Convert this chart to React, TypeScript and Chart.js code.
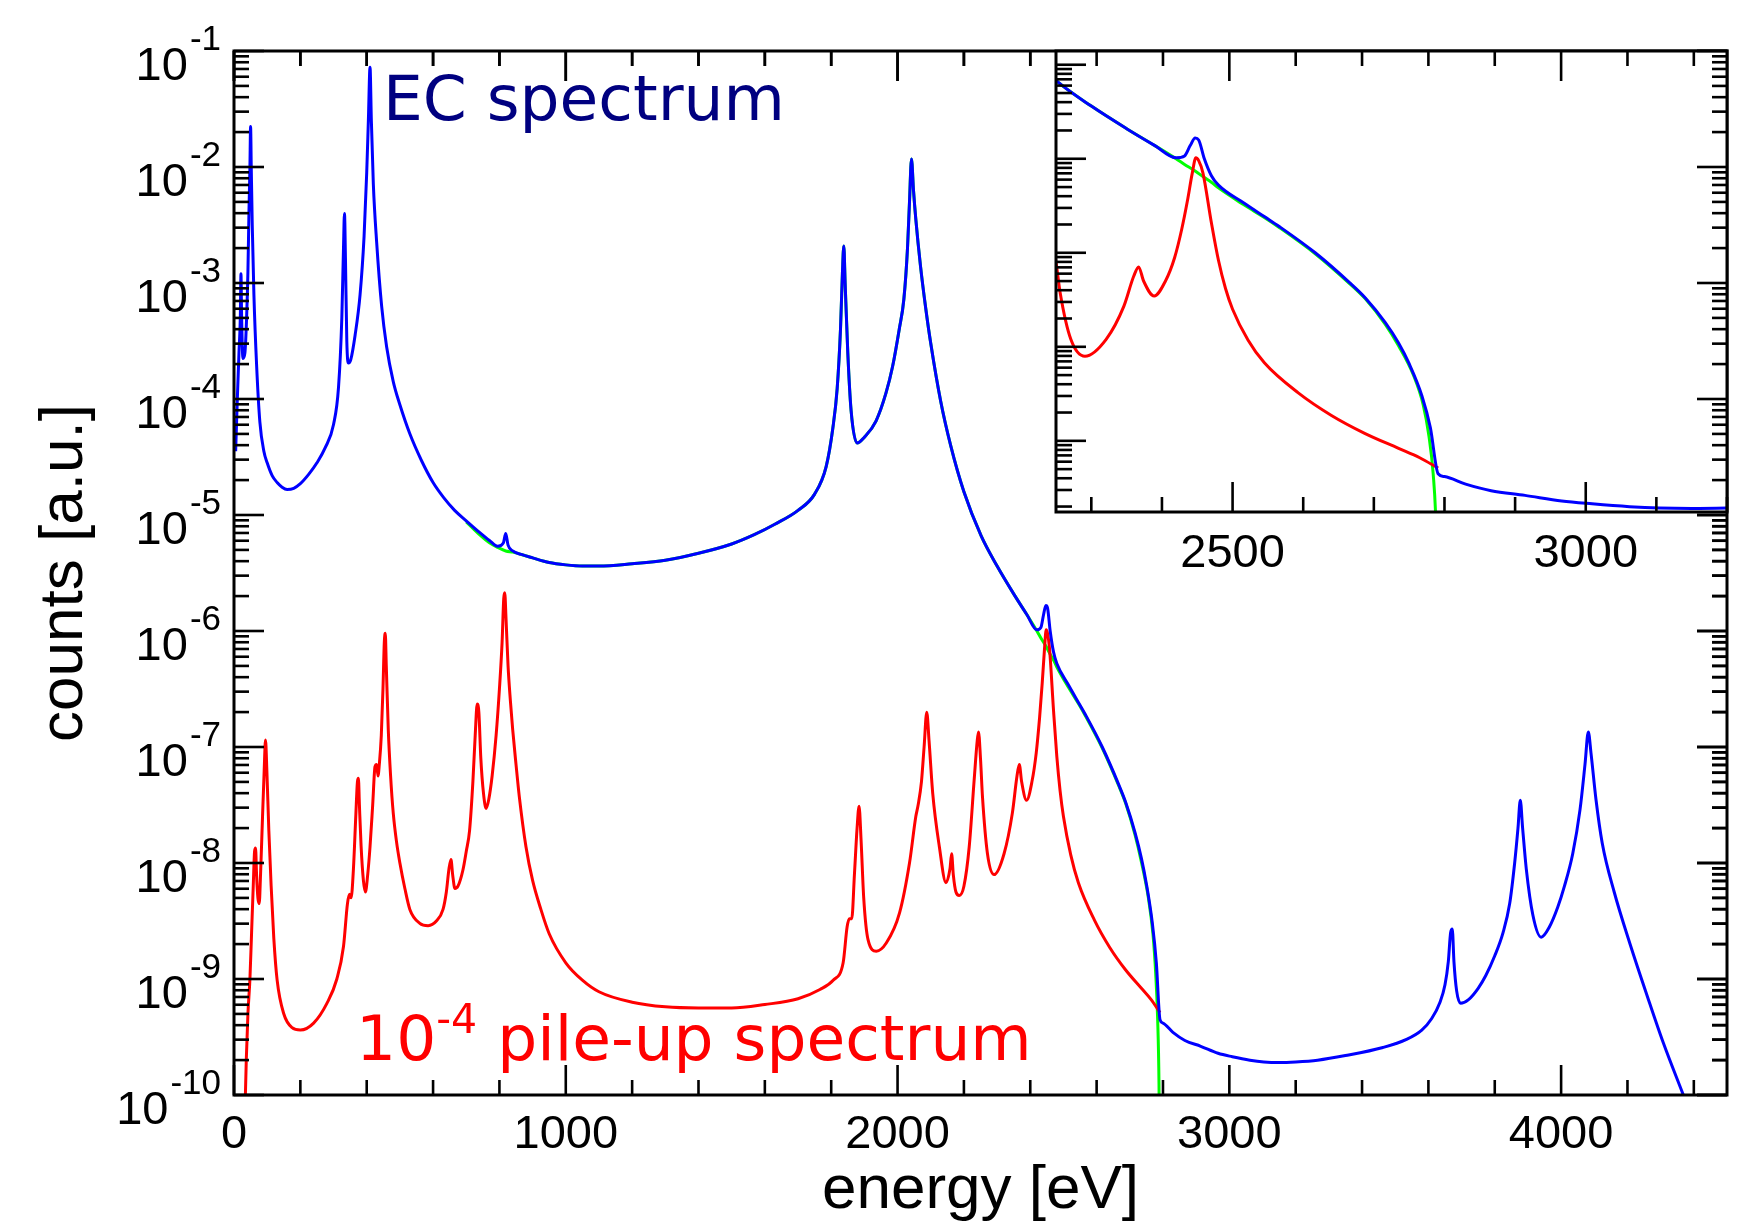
import React, { useEffect, useRef } from "react";
import { Chart, registerables } from "chart.js";

Chart.register(...registerables);

// ---------------- data ----------------
// energies in eV, counts given as log10(counts [a.u.])
const blueEnergy = [
  5, 10, 15, 19, 21, 23, 27, 33, 38, 42, 45, 48, 50, 52, 55, 60, 68, 78, 90, 100,
  115, 130, 145, 160, 180, 200, 225, 250, 275, 300, 315, 325, 330, 333, 336, 340, 345, 352, 365, 380,
  392, 400, 405, 410, 414, 420, 430, 445, 460, 480, 500, 530, 565, 600, 632, 665, 700, 740, 770, 795,
  812, 819, 826, 840, 866, 900, 950, 1000, 1050, 1100, 1200, 1300, 1400, 1500, 1568, 1630, 1700, 1750, 1785, 1805,
  1818, 1828, 1834, 1838, 1842, 1850, 1860, 1878, 1900, 1935, 1965, 1985, 2005, 2019, 2030, 2036, 2042, 2048, 2055, 2069,
  2085, 2100, 2130, 2160, 2200, 2252, 2300, 2350, 2390, 2420, 2432, 2440, 2447, 2452, 2460, 2470, 2480, 2516, 2546, 2566,
  2617, 2666, 2688, 2716, 2735, 2750, 2768, 2780, 2791, 2800, 2830, 2866, 2914, 2966, 3009, 3062, 3104, 3150, 3200, 3266,
  3350, 3463, 3534, 3580, 3610, 3635, 3650, 3660, 3667, 3672, 3677, 3685, 3697, 3720, 3750, 3773, 3800, 3825, 3845, 3860,
  3870, 3877, 3884, 3895, 3915, 3940, 3965, 3990, 4010, 4035, 4057, 4072, 4082, 4090, 4105, 4124, 4160, 4208, 4260, 4308,
  4375, 4420,
];
const blueLogCounts = [
  -4.45, -4.0, -3.6, -3.3, -2.92, -3.3, -3.65, -3.6, -3.3, -2.9, -2.4, -2.0, -1.65, -2.0, -2.5, -3.1, -3.7, -4.2, -4.45, -4.55,
  -4.66, -4.72, -4.76, -4.78, -4.77, -4.73, -4.65, -4.55, -4.42, -4.22, -3.9, -3.3, -2.7, -2.4, -2.8, -3.5, -3.69, -3.66, -3.45, -3.1,
  -2.6, -2.05, -1.6, -1.14, -1.6, -2.15, -2.65, -3.2, -3.55, -3.85, -4.05, -4.3, -4.53, -4.72, -4.85, -4.96, -5.05, -5.15, -5.22, -5.27,
  -5.24, -5.16, -5.26, -5.31, -5.34, -5.37, -5.41, -5.43, -5.44, -5.44, -5.42, -5.39, -5.33, -5.25, -5.17, -5.08, -4.96, -4.82, -4.58, -4.25,
  -3.91, -3.4, -2.9, -2.68, -3.0, -3.6, -4.1, -4.38, -4.33, -4.19, -3.95, -3.72, -3.4, -3.14, -2.7, -2.3, -1.93, -2.2, -2.45, -2.85,
  -3.22, -3.52, -4.02, -4.4, -4.8, -5.18, -5.44, -5.68, -5.86, -5.99, -5.97, -5.86, -5.78, -5.8, -6.0, -6.18, -6.28, -6.47, -6.62, -6.72,
  -7.0, -7.32, -7.48, -7.74, -7.96, -8.18, -8.52, -8.86, -9.35, -9.38, -9.46, -9.53, -9.58, -9.64, -9.67, -9.7, -9.715, -9.72, -9.715, -9.7,
  -9.66, -9.59, -9.52, -9.44, -9.34, -9.2, -9.05, -8.85, -8.6, -8.57, -8.85, -9.1, -9.21, -9.18, -9.08, -8.97, -8.8, -8.6, -8.35, -8.0,
  -7.7, -7.46, -7.7, -8.05, -8.45, -8.64, -8.55, -8.38, -8.2, -7.92, -7.54, -7.15, -6.87, -7.05, -7.45, -7.83, -8.25, -8.7, -9.15, -9.55,
  -10.05, -10.4,
];

const redEnergy = [
  30, 37, 42, 48, 53, 58, 62, 65, 68, 72, 76, 80, 86, 91, 95, 99, 105, 112, 120, 130,
  150, 175, 200, 240, 280, 310, 330, 342, 348, 353, 360, 367, 372, 375, 378, 383, 390, 396, 403, 410,
  418, 425, 430, 434, 438, 444, 449, 453, 456, 459, 465, 472, 480, 490, 500, 515, 530, 560, 585, 610,
  630, 640, 648, 654, 659, 666, 675, 690, 700, 710, 720, 727, 733, 738, 744, 752, 760, 768, 778, 790,
  800, 808, 813, 816, 820, 826, 833, 840, 850, 860, 880, 900, 925, 950, 1000, 1050, 1100, 1200, 1300, 1400,
  1500, 1600, 1700, 1766, 1806, 1836, 1848, 1855, 1862, 1870, 1878, 1884, 1890, 1898, 1911, 1936, 1966, 2006, 2036, 2055,
  2062, 2072, 2080, 2088, 2095, 2106, 2126, 2146, 2158, 2163, 2168, 2176, 2186, 2200, 2216, 2231, 2240, 2244, 2250, 2256,
  2271, 2291, 2321, 2346, 2360, 2367, 2374, 2389, 2405, 2418, 2428, 2436, 2443, 2448, 2452, 2458, 2470, 2480, 2490, 2500,
  2522, 2545, 2593, 2640, 2687, 2735, 2765, 2791,
];
const redLogCounts = [
  -10.5, -9.7, -9.3, -9.0, -8.6, -8.2, -7.9, -7.87, -8.1, -8.3, -8.35, -8.1, -7.6, -7.2, -6.94, -7.2, -7.72, -8.2, -8.65, -9.01,
  -9.3, -9.42, -9.44, -9.38, -9.21, -9.0, -8.72, -8.35, -8.27, -8.3, -8.05, -7.6, -7.3, -7.27, -7.5, -7.85, -8.15, -8.25, -8.1, -7.86,
  -7.5, -7.17, -7.15, -7.25, -7.15, -6.9, -6.5, -6.1, -6.02, -6.3, -6.85, -7.25, -7.57, -7.82, -8.0, -8.22, -8.4, -8.52, -8.54, -8.5,
  -8.4, -8.25, -8.05, -7.97, -8.1, -8.22, -8.2, -8.06, -7.9, -7.72, -7.3, -6.9, -6.63, -6.7, -7.1, -7.4, -7.53, -7.45, -7.25, -6.9,
  -6.5, -6.1, -5.72, -5.67, -5.9, -6.3, -6.6, -6.85, -7.15, -7.43, -7.86, -8.15, -8.4, -8.61, -8.86, -9.01, -9.11, -9.2, -9.24, -9.25,
  -9.25, -9.22, -9.17, -9.09, -9.01, -8.86, -8.55, -8.48, -8.48, -8.1, -7.7, -7.51, -7.8, -8.3, -8.66, -8.76, -8.69, -8.43, -8.0, -7.6,
  -7.5, -7.3, -7.0, -6.7, -6.95, -7.4, -7.86, -8.17, -8.05, -7.92, -8.1, -8.25, -8.28, -8.2, -7.86, -7.28, -6.95, -6.87, -7.1, -7.43,
  -7.92, -8.1, -7.92, -7.57, -7.25, -7.15, -7.3, -7.46, -7.3, -7.05, -6.75, -6.45, -6.15, -5.99, -6.02, -6.15, -6.68, -7.08, -7.38, -7.6,
  -7.93, -8.17, -8.49, -8.73, -8.92, -9.08, -9.18, -9.29,
];

const greenEnergy = [
  700, 740, 770, 795, 819, 840, 866, 900, 950, 1000, 1050, 1100, 1200, 1300, 1400, 1500, 1568, 1630, 1700, 1750,
  1785, 1805, 1818, 1828, 1834, 1838, 1842, 1850, 1860, 1878, 1900, 1935, 1965, 1985, 2005, 2019, 2030, 2036, 2042, 2048,
  2055, 2069, 2085, 2100, 2130, 2160, 2200, 2252, 2300, 2350, 2390, 2420, 2432, 2447, 2460, 2470, 2480, 2516, 2546, 2566,
  2617, 2666, 2688, 2716, 2735, 2756, 2770, 2778, 2784, 2788, 2791,
];
const greenLogCounts = [
  -5.06, -5.17, -5.24, -5.28, -5.31, -5.32, -5.34, -5.37, -5.41, -5.43, -5.44, -5.44, -5.42, -5.39, -5.33, -5.25, -5.17, -5.08, -4.96, -4.82,
  -4.58, -4.25, -3.91, -3.4, -2.9, -2.68, -3.0, -3.6, -4.1, -4.38, -4.33, -4.19, -3.95, -3.72, -3.4, -3.14, -2.7, -2.3, -1.93, -2.2,
  -2.45, -2.85, -3.22, -3.52, -4.02, -4.4, -4.8, -5.18, -5.44, -5.68, -5.86, -6.0, -6.06, -6.13, -6.2, -6.25, -6.31, -6.49, -6.63, -6.73,
  -7.01, -7.33, -7.49, -7.76, -7.99, -8.3, -8.62, -8.95, -9.35, -9.9, -11.0,
];

const xTickLabels = [0, 1000, 2000, 3000, 4000];
const yTickExponents = [-1, -2, -3, -4, -5, -6, -7, -8, -9, -10];
const insetXTickLabels = [2500, 3000];

const ecLabel = "EC spectrum";
const pileupPrefix = "10";
const pileupExponent = "-4";
const pileupLabel = " pile-up spectrum";
const xTitle = "energy [eV]";
const yTitle = "counts [a.u.]";

// ---------------- layout constants ----------------
const W = 1739;
const H = 1230;
const TICK_FONT = '47px "Liberation Sans", Arial, sans-serif';
const SUP_FONT = '35px "Liberation Sans", Arial, sans-serif';
const TITLE_FONT = '62px "Liberation Sans", Arial, sans-serif';
const NOTE_FONT = '63px "DejaVu Sans", sans-serif';
const NOTE_SUP_FONT = '41px "DejaVu Sans", sans-serif';

const toPoints = (xs: number[], logs: number[]) =>
  xs.map((x, i) => ({ x, y: Math.pow(10, logs[i]) }));

const lineStyle = {
  borderWidth: 3,
  pointRadius: 0,
  tension: 0,
  cubicInterpolationMode: "monotone",
  fill: false,
};

// Chart.js paints dataset 0 last (on top): blue over red over green
function makeDatasets() {
  return [
    { label: "EC", data: toPoints(blueEnergy, blueLogCounts), borderColor: "#0000ff", ...lineStyle },
    { label: "pile-up", data: toPoints(redEnergy, redLogCounts), borderColor: "#ff0000", ...lineStyle },
    { label: "EC continuum", data: toPoints(greenEnergy, greenLogCounts), borderColor: "#00ff00", ...lineStyle },
  ];
}

function logTickValues(min: number, max: number) {
  const out: { v: number; major: boolean }[] = [];
  for (let d = -12; d <= 0; d++) {
    for (let k = 1; k <= 9; k++) {
      const v = k * Math.pow(10, d);
      if (v >= min * 0.99999 && v <= max * 1.00001) out.push({ v, major: k === 1 });
    }
  }
  return out;
}

function line(ctx: CanvasRenderingContext2D, x1: number, y1: number, x2: number, y2: number) {
  ctx.beginPath();
  ctx.moveTo(x1, y1);
  ctx.lineTo(x2, y2);
  ctx.stroke();
}

function drawMainTopRightTicks(ctx: CanvasRenderingContext2D, chart: any) {
  const a = chart.chartArea;
  const xs = chart.scales.x;
  const ys = chart.scales.y;
  ctx.save();
  ctx.strokeStyle = "#000";
  ctx.lineWidth = 2.6;
  for (let e = 0; e <= 4500; e += 200) {
    const px = xs.getPixelForValue(e);
    const len = e % 1000 === 0 ? 30 : 15;
    line(ctx, px, a.top, px, a.top + len);
  }
  for (const t of logTickValues(1e-10, 1e-1)) {
    const py = ys.getPixelForValue(t.v);
    const len = t.major ? 30 : 15;
    line(ctx, a.right, py, a.right - len, py);
  }
  ctx.restore();
}

const mainPlugin = {
  id: "mainDecor",
  afterDraw(chart: any) {
    const ctx: CanvasRenderingContext2D = chart.ctx;
    const a = chart.chartArea;
    const xs = chart.scales.x;
    const ys = chart.scales.y;
    ctx.save();
    ctx.strokeStyle = "#000";
    ctx.lineWidth = 3;
    ctx.strokeRect(a.left, a.top, a.right - a.left, a.bottom - a.top);

    ctx.lineWidth = 2.6;
    for (let e = 0; e <= 4500; e += 200) {
      const px = xs.getPixelForValue(e);
      const len = e % 1000 === 0 ? 30 : 15;
      line(ctx, px, a.bottom, px, a.bottom - len);
    }
    for (const t of logTickValues(1e-10, 1e-1)) {
      const py = ys.getPixelForValue(t.v);
      const len = t.major ? 30 : 15;
      line(ctx, a.left, py, a.left + len, py);
    }
    ctx.restore();
    drawMainTopRightTicks(ctx, chart);

    ctx.save();
    ctx.fillStyle = "#000";
    ctx.textBaseline = "alphabetic";
    ctx.font = TICK_FONT;
    ctx.textAlign = "center";
    for (const v of xTickLabels) {
      ctx.fillText(String(v), xs.getPixelForValue(v), a.bottom + 53);
    }
    const rightX = a.left - 13;
    for (const ex of yTickExponents) {
      const py = ys.getPixelForValue(Math.pow(10, ex));
      const sup = String(ex);
      ctx.font = SUP_FONT;
      const ws = ctx.measureText(sup).width;
      ctx.textAlign = "left";
      ctx.fillText(sup, rightX - ws, py - 1);
      ctx.font = TICK_FONT;
      ctx.textAlign = "right";
      ctx.fillText("10", rightX - ws - 2, py + 29);
    }
    ctx.font = TITLE_FONT;
    ctx.textAlign = "center";
    ctx.fillText(xTitle, (a.left + a.right) / 2, 1208);
    ctx.save();
    ctx.translate(82, (a.top + a.bottom) / 2);
    ctx.rotate(-Math.PI / 2);
    ctx.fillText(yTitle, 0, 0);
    ctx.restore();

    ctx.textAlign = "left";
    ctx.font = NOTE_FONT;
    ctx.fillStyle = "#000080";
    ctx.fillText(ecLabel, xs.getPixelForValue(449), ys.getPixelForValue(Math.pow(10, -1.595)));

    ctx.fillStyle = "#ff0000";
    let x = xs.getPixelForValue(368);
    const base = ys.getPixelForValue(Math.pow(10, -9.7));
    ctx.font = NOTE_FONT;
    ctx.fillText(pileupPrefix, x, base);
    x += ctx.measureText(pileupPrefix).width;
    ctx.font = NOTE_SUP_FONT;
    ctx.fillText(pileupExponent, x, base - 27);
    x += ctx.measureText(pileupExponent).width;
    ctx.font = NOTE_FONT;
    ctx.fillText(pileupLabel, x, base);
    ctx.restore();
  },
};

function makeInsetPlugin(mainChart: any) {
  return {
    id: "insetDecor",
    beforeDatasetsDraw(chart: any) {
      const ctx: CanvasRenderingContext2D = chart.ctx;
      const a = chart.chartArea;
      ctx.save();
      ctx.fillStyle = "#ffffff";
      ctx.fillRect(a.left, a.top, a.right - a.left, a.bottom - a.top);
      ctx.restore();
    },
    afterDraw(chart: any) {
      const ctx: CanvasRenderingContext2D = chart.ctx;
      const a = chart.chartArea;
      const xs = chart.scales.x;
      const ys = chart.scales.y;
      ctx.save();
      ctx.strokeStyle = "#000";
      ctx.lineWidth = 3;
      ctx.strokeRect(a.left, a.top, a.right - a.left, a.bottom - a.top);
      ctx.lineWidth = 2.6;
      for (let e = 2300; e <= 3200; e += 100) {
        const px = xs.getPixelForValue(e);
        const len = e % 500 === 0 ? 30 : 15;
        line(ctx, px, a.bottom, px, a.bottom - len);
      }
      for (const t of logTickValues(ys.min, ys.max)) {
        const py = ys.getPixelForValue(t.v);
        const len = t.major ? 30 : 16;
        line(ctx, a.left, py, a.left + len, py);
      }
      ctx.fillStyle = "#000";
      ctx.font = TICK_FONT;
      ctx.textAlign = "center";
      ctx.textBaseline = "alphabetic";
      for (const v of insetXTickLabels) {
        ctx.fillText(String(v), xs.getPixelForValue(v), a.bottom + 55);
      }
      ctx.restore();
      drawMainTopRightTicks(ctx, mainChart);
    },
  };
}

export default function App() {
  const mainRef = useRef<HTMLCanvasElement | null>(null);
  const insetRef = useRef<HTMLCanvasElement | null>(null);

  useEffect(() => {
    if (!mainRef.current || !insetRef.current) return;
    const main = new Chart(mainRef.current, {
      type: "line",
      data: { datasets: makeDatasets() as any },
      options: {
        animation: false,
        responsive: false,
        devicePixelRatio: 1,
        layout: { padding: { left: 234, top: 51, right: 12, bottom: 135 } },
        scales: {
          x: { type: "linear", min: 0, max: 4500, display: false },
          y: { type: "logarithmic", min: 1e-10, max: 1e-1, display: false },
        },
        plugins: { legend: { display: false }, tooltip: { enabled: false } },
        events: [],
      },
      plugins: [mainPlugin],
    } as any);

    const inset = new Chart(insetRef.current, {
      type: "line",
      data: { datasets: makeDatasets() as any },
      options: {
        animation: false,
        responsive: false,
        devicePixelRatio: 1,
        layout: { padding: { left: 1056, top: 51, right: 12, bottom: 718 } },
        scales: {
          x: { type: "linear", min: 2250, max: 3200, display: false },
          y: { type: "logarithmic", min: 1.75e-10, max: 1.4e-5, display: false },
        },
        plugins: { legend: { display: false }, tooltip: { enabled: false } },
        events: [],
      },
      plugins: [makeInsetPlugin(main)],
    } as any);

    return () => {
      inset.destroy();
      main.destroy();
    };
  }, []);

  return (
    <div style={{ position: "absolute", left: 0, top: 0, width: W, height: H, background: "#ffffff" }}>
      <canvas ref={mainRef} width={W} height={H} style={{ position: "absolute", left: 0, top: 0 }} />
      <canvas ref={insetRef} width={W} height={H} style={{ position: "absolute", left: 0, top: 0 }} />
    </div>
  );
}
